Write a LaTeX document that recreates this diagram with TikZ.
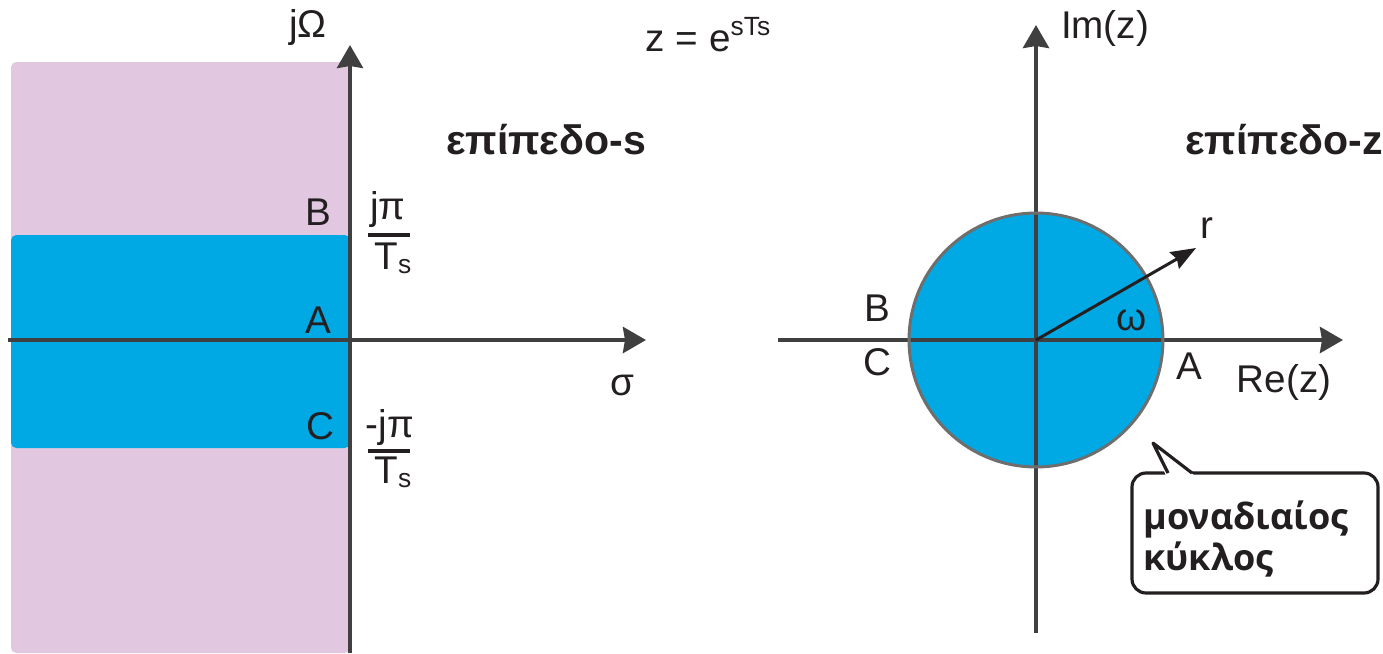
\documentclass[tikz,border=0pt]{standalone}
\usepackage{fontspec}
\setmainfont{Liberation Sans}
\newfontfamily\callfont{Open Sans}
\usetikzlibrary{arrows.meta}
\definecolor{pinkbg}{HTML}{E1C8E0}
\definecolor{bluefill}{HTML}{00A9E3}
\definecolor{axisgray}{HTML}{404040}
\definecolor{circgray}{HTML}{6E6E6E}
\definecolor{txt}{HTML}{231F20}
\begin{document}
\begin{tikzpicture}[x=0.02cm,y=-0.02cm,
  axis/.style={line width=2.3pt, draw=axisgray, -{Stealth[length=0.46cm,width=0.52cm,inset=0.04cm]}},
  lbl/.style={inner sep=0pt, text=txt, font=\fontsize{22}{26}\selectfont},
  blbl/.style={inner sep=0pt, text=txt, font=\fontsize{23.4}{26}\selectfont\bfseries},
  fracbar/.style={line width=2.2pt, draw=txt},
  radarrow/.style={line width=1.7pt, draw=txt, -{Stealth[length=0.5cm,width=0.38cm,inset=0.06cm]}},
  callbox/.style={line width=1.8pt, draw=txt, fill=white},
]
\useasboundingbox (0,0) rectangle (1383,653);
% ---------- s-plane ----------
\fill[pinkbg, rounded corners=3] (11,653) -- (11,62) -- (350,62) -- (350,653) -- cycle;
\fill[bluefill, rounded corners=3] (11,235) rectangle (350,448);
\coordinate (sx0) at (8,340);
\coordinate (sx1) at (646,340);
\coordinate (sy0) at (350,653);
\coordinate (sy1) at (350,45);
\draw[axis] (sx0) -- (sx1);
\draw[axis] (sy0) -- (sy1);
\node[lbl] (jO) at (308,28) {jΩ};
\node[lbl] (map) at (708,35) {z = e\raisebox{0.42em}{\fontsize{15}{17}\selectfont sTs}};
\node[blbl] (splane) at (546,140) {επίπεδο-s};
\node[lbl] (sB) at (318,212) {B};
\node[lbl] (sA) at (318,320) {A};
\node[lbl] (sC) at (320,426) {C};
\node[lbl] (sig) at (622,385) {σ};
\node[lbl] (pnum) at (388,210) {jπ};
\node[lbl] (pden) at (393,258) {T\raisebox{-0.1em}{\fontsize{15}{17}\selectfont s}};
\draw[fracbar] (368,235) -- (410,235);
\node[lbl] (mnum) at (390,427) {-jπ};
\node[lbl] (mden) at (393,472) {T\raisebox{-0.1em}{\fontsize{15}{17}\selectfont s}};
\draw[fracbar] (368,451) -- (410,451);
% ---------- z-plane ----------
\coordinate (zc) at (1036,340);
\fill[bluefill] (zc) circle[radius=2.54cm];
\coordinate (zx0) at (778,340);
\coordinate (zx1) at (1343,340);
\coordinate (zy0) at (1036,633);
\coordinate (zy1) at (1036,25);
\draw[axis] (zx0) -- (zx1);
\draw[axis] (zy0) -- (zy1);
\draw[line width=1.7pt, draw=circgray] (zc) circle[radius=2.54cm];
\coordinate (rtip) at (1196,248);
\draw[radarrow] (zc) -- (rtip);
\node[lbl] (imz) at (1105,28) {Im(z)};
\node[lbl] (rez) at (1284,382) {Re(z)};
\node[blbl] (zplane) at (1284,140) {επίπεδο-z};
\node[lbl] (rl) at (1207,228) {r};
\node[lbl] (om) at (1132,320) {ω};
\node[lbl] (zB) at (877,308) {B};
\node[lbl] (zC) at (877,362) {C};
\node[lbl] (zA) at (1189,366) {A};
% ---------- callout ----------
\draw[callbox, rounded corners=0.28cm] (1132,473) rectangle (1378,593);
\fill[white] (1166,476) -- (1153,443) -- (1195,476) -- cycle;
\draw[line width=1.8pt, draw=txt, line join=round] (1168,473) -- (1153,443) -- (1192,473);
\node[inner sep=0pt, text=txt, anchor=west, align=left, font=\fontsize{20.5}{23}\selectfont\callfont\bfseries] (callout) at (1143,539) {μοναδιαίος\\κύκλος};
\end{tikzpicture}
\end{document}
